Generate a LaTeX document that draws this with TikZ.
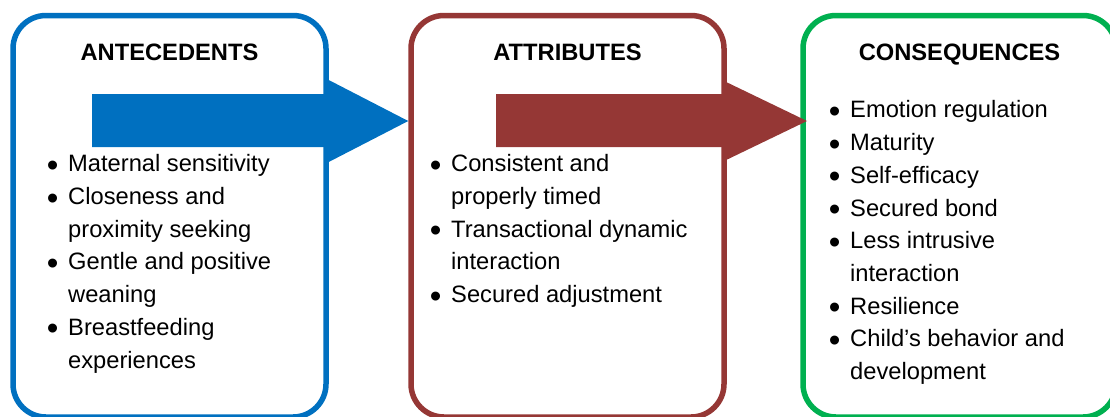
\documentclass[tikz,border=0pt]{standalone}
\usepackage{fontspec}
\setmainfont{Liberation Sans}
\usepackage{tikz}
\usetikzlibrary{calc}

\definecolor{antblue}{RGB}{0,112,192}
\definecolor{attred}{RGB}{149,55,53}
\definecolor{congreen}{RGB}{0,176,80}
\newcommand{\bul}{\llap{\raisebox{-4.5pt}{\fontsize{33}{0}\selectfont\textbullet}\hspace{9.7pt}}}

\begin{document}
\begin{tikzpicture}[x=1pt,y=-1pt,
	frame/.style={draw, line width=5.5pt, rounded corners=33pt, minimum width=313pt, minimum height=401.5pt, inner sep=0pt},
	head/.style={font=\bfseries\fontsize{23.7}{28}\selectfont, anchor=base, inner sep=0pt},
	items/.style={font=\fontsize{23.7}{32.7}\selectfont, align=left, anchor=base west, inner sep=0pt}]
	\useasboundingbox (0,0) rectangle (1110,416);
	
	%frames
	\node[frame, antblue]  (ante) at (169.5,216.25) {};
	\node[frame, attred]   (attr) at (567.5,216.25) {};
	\node[frame, congreen] (cons) at (959.5,216.25) {};
	
	%titles
	\node[head] (tante) at (169.5,60) {ANTECEDENTS};
	\node[head] (tattr) at (567.5,60) {ATTRIBUTES};
	\node[head] (tcons) at (959.5,60) {CONSEQUENCES};
	
	%tips
	\coordinate (tipa) at (attr.west |- 0,121);
	\coordinate (tipb) at (807,121);
	
	%arrows
	\fill[antblue] (92,94) -- (ante.east |- 0,94) -- (ante.east |- 0,80) -- (tipa)
		-- (ante.east |- 0,162) -- (ante.east |- 0,147) -- (92,147) -- cycle;		%ante--attr
	\fill[attred] (496,94) -- (722,94) -- (722,80) -- (tipb)
		-- (722,162) -- (722,147) -- (496,147) -- cycle;						%attr--cons
	
	%lists (placed by the baseline of the last line)
	\node[items] (lante) at (68,368) {\bul Maternal sensitivity\\ \bul Closeness and\\ proximity seeking\\
		\bul Gentle and positive\\ weaning\\ \bul Breastfeeding\\ experiences};
	\node[items] (lattr) at (451,302.5) {\bul Consistent and\\ properly timed\\ \bul Transactional dynamic\\
		interaction\\ \bul Secured adjustment};
	\node[items] (lcons) at (850,379.5) {\bul Emotion regulation\\ \bul Maturity\\ \bul Self-efficacy\\
		\bul Secured bond\\ \bul Less intrusive\\ interaction\\ \bul Resilience\\
		\bul Child’s behavior and\\ development};
	
\end{tikzpicture}
\end{document}
